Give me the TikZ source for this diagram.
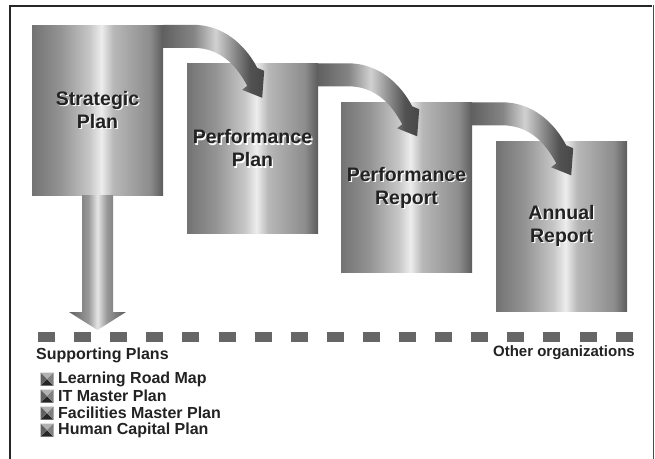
\documentclass[tikz,border=0pt]{standalone}
\usepackage{fontspec}
\setmainfont{Liberation Sans}
\usetikzlibrary{positioning,calc}

\definecolor{inkgray}{HTML}{222222}
\definecolor{dashgray}{HTML}{666666}

\pgfdeclarehorizontalshading{boxmetal}{100bp}{color(0bp)=(black!55); color(25bp)=(black!55);
  color(36bp)=(black!42); color(47bp)=(black!22); color(51.5bp)=(black!7);
  color(56bp)=(black!28); color(70bp)=(black!45); color(75bp)=(black!64); color(100bp)=(black!64)}
\pgfdeclarehorizontalshading{arrowmetal}{100bp}{color(0bp)=(black!62); color(25bp)=(black!62);
  color(40bp)=(black!48); color(51bp)=(black!18); color(60bp)=(black!45);
  color(68bp)=(black!68); color(75bp)=(black!72); color(100bp)=(black!72)}
\pgfdeclarehorizontalshading{shaftmetal}{100bp}{color(0bp)=(black!62); color(25bp)=(black!62);
  color(42bp)=(black!40); color(50bp)=(black!10); color(58bp)=(black!40);
  color(75bp)=(black!64); color(100bp)=(black!64)}

\tikzset{
  plan/.style={shade, shading=boxmetal, minimum width=131pt, minimum height=170pt, inner sep=0pt},
  plantext/.style={text=inkgray, font=\fontsize{19.5}{23}\selectfont\bfseries, align=center},
  planglow/.style={plantext, text=white},
  listtext/.style={text=inkgray, font=\fontsize{16}{17}\selectfont\bfseries, inner sep=0pt},
  divider/.style={dashgray, line width=10pt, dash pattern=on 17pt off 19.1pt},
  flowarrow/.pic={
    \shade[shading=arrowmetal] (0,0) -- (30,0) .. controls (60,0) and (82,20) .. (94,43)
      -- (101,46) -- (99,73) -- (79,65) -- (84,61) .. controls (74,42) and (58,23) .. (30,23)
      -- (0,23) -- cycle;
  },
  planmark/.pic={
    \fill[black!30] (-6.5,-6.5) -- (6.5,-6.5) -- (0,0) -- cycle;
    \fill[black!85] (-6.5,6.5) -- (6.5,6.5) -- (0,0) -- cycle;
    \fill[black!62] (-6.5,-6.5) -- (-6.5,6.5) -- (0,0) -- cycle;
    \fill[black!50] (6.5,-6.5) -- (6.5,6.5) -- (0,0) -- cycle;
  }
}

\begin{document}
\begin{tikzpicture}[x=1pt,y=-1pt,on grid]
    \useasboundingbox (0,0) rectangle (655,458);
    \fill[white] (0,0) rectangle (655,458);

    % frame
    \draw[line width=2.6pt, black!85] (10,460) |- (652,6);
    \draw[line width=1.6pt, black!70] (653.5,5) -- (653.5,460);

    % plans
    \node[plan] (sp) at (97.5,110) {};
    \node[plan] [below right=38.5pt and 155pt of sp] (pp) {};
    \node[plan] [below right=39pt and 154pt of pp] (pr) {};
    \node[plan] [below right=38.5pt and 155pt of pr] (ar) {};

    \foreach \n/\t in {sp/{Strategic\\Plan}, pp/{Performance\\Plan},
                       pr/{Performance\\Report}, ar/{Annual\\Report}} {
        \node[planglow] (\n glow) at ($(\n)+(1.3,1.3)$) {\t};
        \node[plantext] (\n text) at (\n) {\t};
    }

    % arrows between plans
    \pic at (sp.north east) {flowarrow};
    \pic at (pp.north east) {flowarrow};
    \pic at (pr.north east) {flowarrow};

    % arrow down to supporting plans
    \coordinate (sup) at (sp.south |- 0,330);
    \shade[shading=shaftmetal] ($(sp.south)+(-15.5,0)$) -- ($(sup)+(-15.5,-18)$)
        -- ($(sup)+(-28.5,-18)$) -- (sup) -- ($(sup)+(28.5,-18)$)
        -- ($(sup)+(15.5,-18)$) -- ($(sp.south)+(15.5,0)$) -- cycle;

    % divider
    \coordinate (dl) at (38,337);
    \coordinate (dr) at (634,337);
    \draw[divider] (dl) -- (dr);

    \node[listtext, anchor=west] (supporting) at (36,355) {Supporting Plans};
    \node[listtext, font=\fontsize{15}{17}\selectfont\bfseries, anchor=east] (other) at (635,353) {Other organizations};

    \foreach \t [count=\i] in {Learning Road Map, IT Master Plan,
                               Facilities Master Plan, Human Capital Plan} {
        \pic at (47,362+17*\i) {planmark};
        \node[listtext, anchor=west] (item\i) at (58,362+17*\i) {\t};
    }
\end{tikzpicture}
\end{document}
